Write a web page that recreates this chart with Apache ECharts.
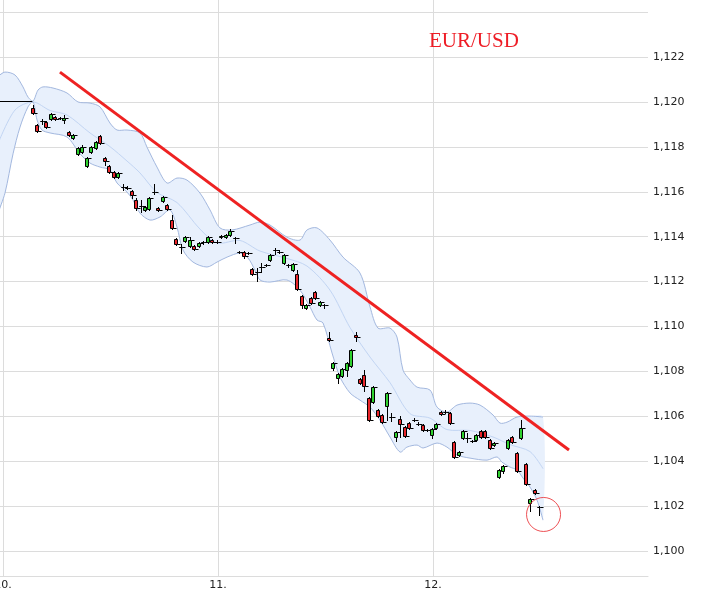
<!DOCTYPE html>
<html><head><meta charset="utf-8">
<script src="https://cdn.jsdelivr.net/npm/echarts@6/dist/echarts.min.js"></script>
<style>html,body{margin:0;padding:0;background:#fff}#c{width:709px;height:595px}</style>
</head><body><div id="c"></div>
<script>
// x axis: hours since day 10, 00:00
const DAY_TICKS = [0, 24, 48];
const DAY_LABELS = ['10.', '11.', '12.'];
const PRICE_TICKS = [1.100, 1.102, 1.104, 1.106, 1.108, 1.110, 1.112, 1.114, 1.116, 1.118, 1.120, 1.122, 1.124];
const PRICE_LABELS = [1.100, 1.102, 1.104, 1.106, 1.108, 1.110, 1.112, 1.114, 1.116, 1.118, 1.120, 1.122];

// 30-minute candles
const CANDLE_START_HOUR = 3.35;
const CANDLE_STEP_HOUR = 0.5;
const opens = [1.11973,1.11898,1.11916,1.11911,1.11925,1.11933,1.11929,1.11920,1.11866,1.11839,
1.11768,1.11777,1.11714,1.11777,1.11795,1.11848,1.11750,1.11714,1.11688,1.11665,
1.11621,1.11616,1.11603,1.11563,1.11537,1.11519,1.11523,1.11598,1.11527,1.11559,
1.11541,1.11474,1.11390,1.11354,1.11381,1.11358,1.11358,1.11358,1.11376,1.11376,
1.11385,1.11376,1.11398,1.11398,1.11407,1.11394,1.11332,1.11332,1.11327,1.11256,
1.11242,1.11265,1.11274,1.11296,1.11341,1.11332,1.11283,1.11274,1.11251,1.11234,
1.11136,1.11082,1.11127,1.11153,1.11095,1.11095,1.10949,1.10815,1.10771,1.10780,
1.10806,1.10824,1.10962,1.10766,1.10784,1.10681,1.10663,1.10628,1.10606,1.10646,
1.10597,1.10508,1.10588,1.10552,1.10570,1.10583,1.10566,1.10561,1.10539,1.10517,
1.10548,1.10619,1.10619,1.10614,1.10485,1.10428,1.10503,1.10503,1.10490,1.10494,
1.10535,1.10535,1.10494,1.10472,1.10330,1.10356,1.10459,1.10508,1.10437,1.10503,
1.10388,1.10214,1.10272,1.10196];
const closes = [1.11951,1.11871,1.11914,1.11889,1.11947,1.11925,1.11927,1.11929,1.11853,1.11853,
1.11795,1.11799,1.11750,1.11799,1.11822,1.11817,1.11737,1.11688,1.11665,1.11683,
1.11620,1.11617,1.11585,1.11527,1.11535,1.11532,1.11572,1.11599,1.11519,1.11577,
1.11523,1.11439,1.11367,1.11353,1.11398,1.11385,1.11345,1.11372,1.11377,1.11398,
1.11376,1.11377,1.11403,1.11407,1.11425,1.11393,1.11331,1.11314,1.11328,1.11234,
1.11243,1.11264,1.11273,1.11318,1.11340,1.11331,1.11318,1.11273,1.11278,1.11167,
1.11095,1.11095,1.11104,1.11127,1.11109,1.11094,1.10940,1.10837,1.10789,1.10811,
1.10837,1.10895,1.10953,1.10749,1.10735,1.10583,1.10731,1.10601,1.10574,1.10704,
1.10596,1.10530,1.10566,1.10512,1.10548,1.10582,1.10565,1.10539,1.10538,1.10543,
1.10566,1.10610,1.10618,1.10570,1.10419,1.10441,1.10535,1.10502,1.10489,1.10517,
1.10508,1.10508,1.10459,1.10481,1.10361,1.10379,1.10494,1.10485,1.10356,1.10548,
1.10298,1.10231,1.10258,1.10195];
const lows = [1.11947,1.11866,1.11902,1.11885,1.11920,1.11920,1.11925,1.11907,1.11849,1.11835,
1.11764,1.11773,1.11710,1.11773,1.11791,1.11813,1.11719,1.11683,1.11661,1.11661,
1.11608,1.11612,1.11572,1.11519,1.11510,1.11514,1.11519,1.11590,1.11514,1.11554,
1.11519,1.11434,1.11363,1.11327,1.11376,1.11354,1.11341,1.11354,1.11367,1.11372,
1.11372,1.11372,1.11394,1.11394,1.11403,1.11372,1.11327,1.11305,1.11323,1.11229,
1.11203,1.11242,1.11269,1.11292,1.11323,1.11327,1.11278,1.11265,1.11247,1.11162,
1.11082,1.11078,1.11100,1.11122,1.11091,1.11082,1.10935,1.10806,1.10749,1.10775,
1.10780,1.10820,1.10935,1.10744,1.10713,1.10579,1.10659,1.10597,1.10570,1.10583,
1.10579,1.10490,1.10508,1.10508,1.10543,1.10579,1.10561,1.10534,1.10534,1.10503,
1.10543,1.10606,1.10614,1.10566,1.10414,1.10423,1.10499,1.10485,1.10485,1.10490,
1.10503,1.10503,1.10454,1.10468,1.10325,1.10347,1.10454,1.10481,1.10352,1.10499,
1.10294,1.10178,1.10254,1.10160];
const highs = [1.11987,1.11902,1.11925,1.11916,1.11951,1.11938,1.11934,1.11942,1.11871,1.11858,
1.11800,1.11808,1.11754,1.11804,1.11826,1.11853,1.11755,1.11719,1.11692,1.11688,
1.11634,1.11625,1.11608,1.11572,1.11563,1.11537,1.11576,1.11634,1.11532,1.11581,
1.11545,1.11496,1.11394,1.11367,1.11403,1.11398,1.11363,1.11376,1.11381,1.11403,
1.11390,1.11385,1.11407,1.11412,1.11434,1.11398,1.11336,1.11336,1.11332,1.11260,
1.11260,1.11283,1.11278,1.11323,1.11349,1.11341,1.11323,1.11278,1.11283,1.11251,
1.11140,1.11100,1.11131,1.11158,1.11113,1.11100,1.10975,1.10842,1.10793,1.10815,
1.10842,1.10900,1.10975,1.10771,1.10806,1.10686,1.10735,1.10632,1.10610,1.10708,
1.10615,1.10535,1.10601,1.10557,1.10574,1.10592,1.10574,1.10566,1.10543,1.10548,
1.10570,1.10623,1.10628,1.10619,1.10490,1.10445,1.10539,1.10526,1.10494,1.10521,
1.10539,1.10539,1.10499,1.10485,1.10365,1.10383,1.10499,1.10512,1.10441,1.10583,
1.10392,1.10236,1.10276,1.10200];

// Bollinger bands [hour, price]
const upperBand = [[-0.5,1.12115],[0.22,1.12133],[1.34,1.12120],[2.23,1.12067],[2.79,1.12022],[3.35,1.12004],
[3.91,1.12053],[4.47,1.12067],[5.58,1.12062],[7.14,1.12040],[8.37,1.12000],[9.71,1.11995],[10.83,1.11978],
[11.94,1.11906],[12.73,1.11875],[13.84,1.11875],[15.29,1.11862],[16.07,1.11799],[17.19,1.11710],[18.31,1.11639],
[19.42,1.11661],[20.54,1.11652],[21.99,1.11594],[23.11,1.11519],[24.22,1.11439],[25.56,1.11430],[27.57,1.11452],
[28.69,1.11465],[29.80,1.11452],[31.70,1.11398],[33.15,1.11385],[33.94,1.11430],[35.05,1.11439],[36.50,1.11385],
[37.95,1.11309],[39.85,1.11238],[40.97,1.11087],[41.86,1.10993],[43.20,1.10993],[43.98,1.10953],[44.65,1.10806],
[45.43,1.10762],[46.22,1.10730],[47.67,1.10717],[48.45,1.10641],[49.56,1.10619],[50.68,1.10650],[52.13,1.10659],
[53.25,1.10650],[54.70,1.10606],[55.48,1.10570],[56.26,1.10574],[57.38,1.10597],[58.83,1.10601],[60.28,1.10597]];
const middleBand = [[-0.5,1.11820],[1.34,1.11964],[3.35,1.12000],[5.25,1.11962],[7.14,1.11942],[9.71,1.11862],
[11.94,1.11801],[13.84,1.11737],[15.29,1.11684],[17.19,1.11597],[19.42,1.11552],[21.99,1.11434],[23.89,1.11372],
[26.46,1.11383],[28.69,1.11336],[31.70,1.11303],[33.94,1.11269],[36.50,1.11162],[38.74,1.10995],[40.97,1.10864],
[43.20,1.10750],[45.43,1.10612],[47.67,1.10592],[49.56,1.10541],[52.13,1.10537],[54.70,1.10508],[56.60,1.10474],
[58.83,1.10443],[60.28,1.10367]];
const lowerBand = [[-0.5,1.11513],[0.22,1.11594],[1.12,1.11769],[1.90,1.11888],[2.79,1.11978],[3.35,1.12000],
[3.80,1.11920],[4.35,1.11875],[5.25,1.11862],[7.14,1.11844],[8.60,1.11769],[9.71,1.11728],[10.83,1.11710],
[11.94,1.11697],[12.73,1.11639],[13.84,1.11599],[14.51,1.11563],[15.29,1.11505],[16.41,1.11474],[17.53,1.11488],
[18.64,1.11519],[19.42,1.11443],[20.09,1.11341],[21.21,1.11287],[22.77,1.11265],[23.89,1.11287],[25.01,1.11309],
[26.46,1.11327],[27.35,1.11305],[28.13,1.11251],[28.69,1.11207],[29.80,1.11198],[31.70,1.11207],[33.15,1.11162],
[34.27,1.11087],[35.05,1.11029],[35.72,1.11016],[36.73,1.10882],[37.62,1.10775],[38.74,1.10704],[39.85,1.10672],
[40.97,1.10641],[42.08,1.10583],[43.20,1.10508],[44.32,1.10441],[45.10,1.10463],[46.22,1.10472],[46.89,1.10459],
[48.45,1.10481],[49.56,1.10463],[50.68,1.10428],[52.13,1.10414],[54.03,1.10405],[55.15,1.10419],[55.70,1.10396],
[56.60,1.10374],[57.38,1.10361],[58.05,1.10325],[58.83,1.10285],[59.61,1.10227],[60.28,1.10138]];

const prevCloseLine = [[-0.5,1.12002],[3.27,1.12002]];
const trendLine = [[6.36,1.12133],[63.18,1.10450]];
const markedPoint = [[60.34,1.10163]];

const candleData = opens.map((o, i) => [CANDLE_START_HOUR + CANDLE_STEP_HOUR * i, o, closes[i], lows[i], highs[i]]);

const chart = echarts.init(document.getElementById('c'), null, {renderer: 'canvas'});
const GRID_COLOR = '#dcdcdc';
const LABEL_FONT = {fontFamily: 'DejaVu Sans', fontSize: 11, color: '#222'};

function bandItem(params, api) {
  const toPts = arr => arr.map(p => api.coord(p));
  const up = toPts(upperBand), mid = toPts(middleBand), lo = toPts(lowerBand);
  const poly = up.concat(lo.slice().reverse());
  return {
    type: 'group',
    children: [
      {type: 'polygon', shape: {points: poly, smooth: 0.3}, style: {fill: '#e8f0fc', stroke: null}},
      {type: 'polyline', shape: {points: mid, smooth: 0.3}, style: {stroke: '#c2d5f3', lineWidth: 1, fill: null}},
      {type: 'polyline', shape: {points: up, smooth: 0.3}, style: {stroke: '#a3b8df', lineWidth: 1, fill: null}},
      {type: 'polyline', shape: {points: lo, smooth: 0.3}, style: {stroke: '#a3b8df', lineWidth: 1, fill: null}}
    ]
  };
}

function candleItem(params, api) {
  const t = api.value(0), o = api.value(1), c = api.value(2), l = api.value(3), h = api.value(4);
  const pO = api.coord([t, o]), pC = api.coord([t, c]), pL = api.coord([t, l]), pH = api.coord([t, h]);
  const r = Math.round(pO[0]);
  const yTop = Math.round(Math.min(pO[1], pC[1])), yBot = Math.round(Math.max(pO[1], pC[1]));
  const upC = c >= o;
  const yc = Math.round(pC[1]) + 0.5;
  return {
    type: 'group',
    children: [
      {type: 'line', shape: {x1: r + 0.5, y1: Math.round(pH[1]), x2: r + 0.5, y2: Math.round(pL[1]) + 1}, style: {stroke: '#000', lineWidth: 1}},
      {type: 'rect', shape: {x: r - 1.5, y: yTop + 0.5, width: 3, height: Math.max(0, yBot - yTop)},
        style: {fill: upC ? '#2fd12f' : '#e8262b', stroke: '#000', lineWidth: 1}},
      {type: 'line', shape: {x1: r + 1.5, y1: yc, x2: r + 4.5, y2: yc}, style: {stroke: '#000', lineWidth: 1}}
    ]
  };
}

chart.setOption({
  animation: false,
  backgroundColor: '#fff',
  title: {
    text: 'EUR/USD', left: 429, top: 31, padding: 0,
    textStyle: {fontFamily: 'Liberation Serif', fontSize: 21, fontWeight: 'normal', color: '#ee1c25'}
  },
  grid: {left: 0, right: 61, top: 0, bottom: 19, containLabel: false, outerBoundsMode: 'none'},
  xAxis: {
    type: 'value', min: -0.335, max: 72,
    axisLine: {show: true, lineStyle: {color: GRID_COLOR}},
    axisTick: {show: false, customValues: DAY_TICKS},
    splitLine: {show: true, lineStyle: {color: GRID_COLOR, width: 1}},
    axisLabel: Object.assign({customValues: DAY_TICKS, margin: 4,
      formatter: v => DAY_LABELS[DAY_TICKS.indexOf(Math.round(v))] || ''}, LABEL_FONT)
  },
  yAxis: {
    type: 'value', position: 'right', min: 1.09889, max: 1.12454,
    axisLine: {show: true, lineStyle: {color: GRID_COLOR}},
    axisTick: {show: false, customValues: PRICE_TICKS},
    splitLine: {show: true, lineStyle: {color: GRID_COLOR, width: 1}},
    axisLabel: Object.assign({customValues: PRICE_LABELS, margin: 5,
      formatter: v => v.toFixed(3).replace('.', ',')}, LABEL_FONT)
  },
  series: [
    {type: 'custom', renderItem: bandItem, data: [[30, 1.11]], clip: true, z: 1, silent: true},
    {type: 'line', data: prevCloseLine, symbol: 'none', lineStyle: {color: '#000', width: 1}, z: 2, silent: true},
    {type: 'custom', renderItem: candleItem, data: candleData, encode: {x: 0, y: [1, 2, 3, 4]}, clip: true, z: 3},
    {type: 'line', data: trendLine, symbol: 'none', lineStyle: {color: '#ee2222', width: 3}, z: 4, silent: true},
    {type: 'scatter', data: markedPoint, symbol: 'circle', symbolSize: 34,
      itemStyle: {color: 'rgba(0,0,0,0)', borderColor: '#e8262b', borderWidth: 1}, z: 5, silent: true}
  ]
});
</script>
</body></html>
